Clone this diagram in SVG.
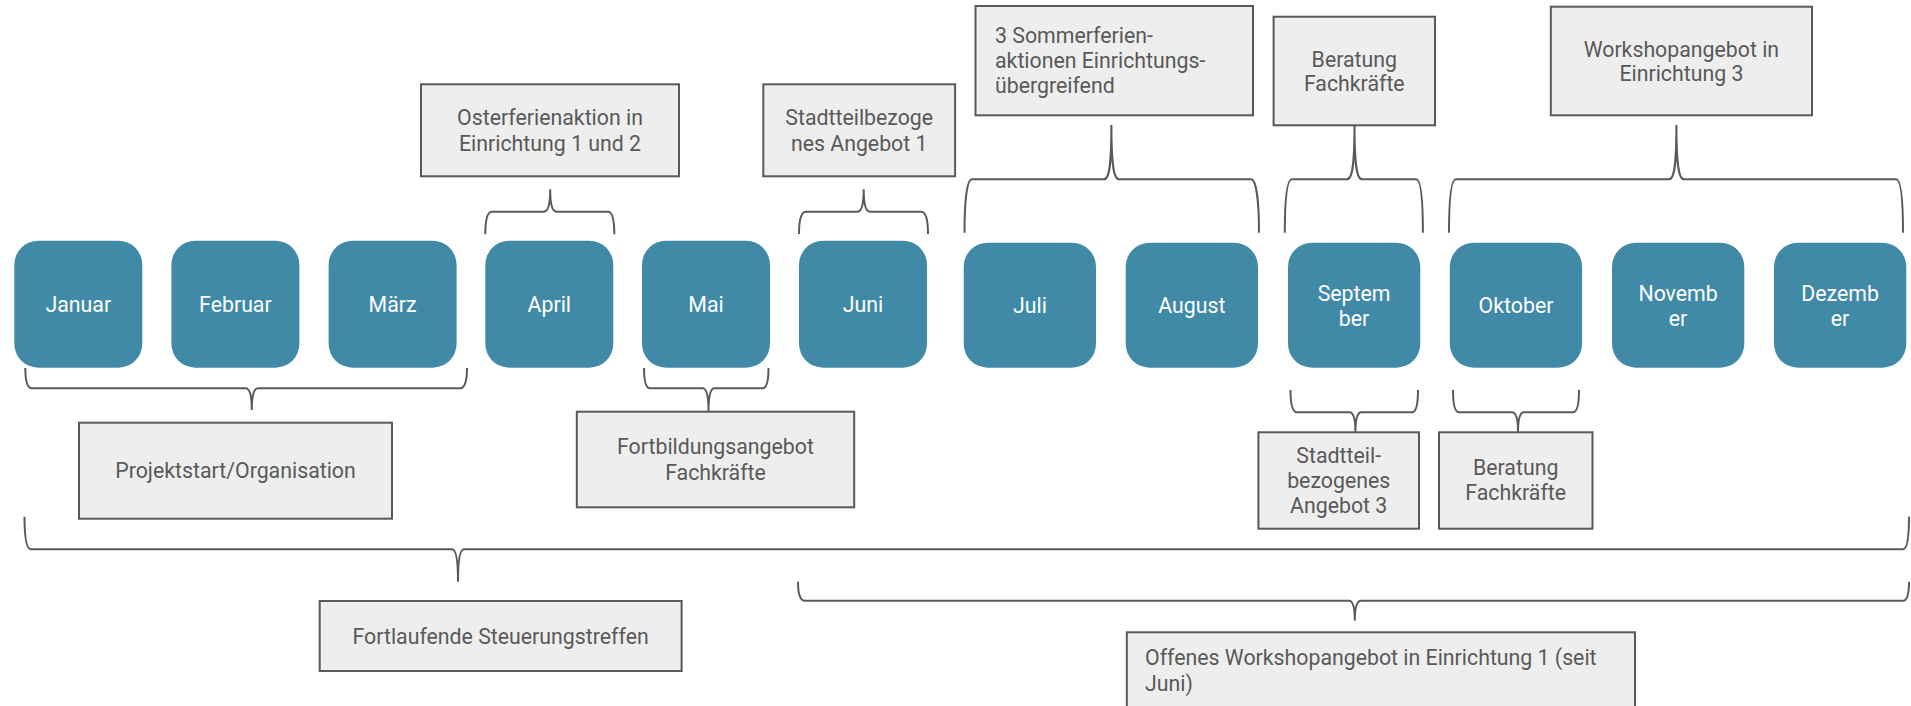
<svg xmlns="http://www.w3.org/2000/svg" width="1911" height="706" viewBox="0 0 1911 706">
<style>
.m{fill:#408aa8}
.mt{font-family:Roboto,"Liberation Sans",sans-serif;font-size:21.3px;fill:#ffffff;text-anchor:middle}
.b{fill:#eeeeee;stroke:#595959;stroke-width:2}
.bt{font-family:Roboto,"Liberation Sans",sans-serif;font-size:21.3px;fill:#595959;text-anchor:middle}
.btl{font-family:Roboto,"Liberation Sans",sans-serif;font-size:21.3px;fill:#595959}
.c path{fill:none;stroke:#595959;stroke-width:2}
</style>
<rect width="1911" height="706" fill="#ffffff"/>
<g id="jan"><rect class="m" x="14.3" y="240.7" width="128" height="127" rx="24"/><text class="mt" x="78.3" y="311.5">Januar</text></g>
<g id="feb"><rect class="m" x="171.4" y="240.7" width="128" height="127" rx="24"/><text class="mt" x="235.4" y="311.5">Februar</text></g>
<g id="mar"><rect class="m" x="328.6" y="240.7" width="128" height="127" rx="24"/><text class="mt" x="392.6" y="311.5">März</text></g>
<g id="apr"><rect class="m" x="485.3" y="240.7" width="128" height="127" rx="24"/><text class="mt" x="549.3" y="311.5">April</text></g>
<g id="mai"><rect class="m" x="642" y="240.7" width="128" height="127" rx="24"/><text class="mt" x="706" y="311.5">Mai</text></g>
<g id="jun"><rect class="m" x="799" y="240.7" width="128" height="127" rx="24"/><text class="mt" x="863" y="311.5">Juni</text></g>
<g id="jul"><rect class="m" x="963.7" y="242.7" width="132.3" height="125" rx="24"/><text class="mt" x="1029.9" y="312.7">Juli</text></g>
<g id="aug"><rect class="m" x="1125.7" y="242.7" width="132.3" height="125" rx="24"/><text class="mt" x="1191.9" y="312.7">August</text></g>
<g id="sep"><rect class="m" x="1288" y="242.7" width="132.3" height="125" rx="24"/><text class="mt" x="1354.1" y="300.5">Septem</text><text class="mt" x="1354.1" y="326.2">ber</text></g>
<g id="okt"><rect class="m" x="1449.8" y="242.7" width="132.3" height="125" rx="24"/><text class="mt" x="1516" y="312.7">Oktober</text></g>
<g id="nov"><rect class="m" x="1612" y="242.7" width="132.3" height="125" rx="24"/><text class="mt" x="1678.1" y="300.5">Novemb</text><text class="mt" x="1678.1" y="326.2">er</text></g>
<g id="dez"><rect class="m" x="1774" y="242.7" width="132.3" height="125" rx="24"/><text class="mt" x="1840.1" y="300.5">Dezemb</text><text class="mt" x="1840.1" y="326.2">er</text></g>

<g id="oster"><rect class="b" x="421" y="84.3" width="258" height="92"/><text class="bt" x="550" y="125">Osterferienaktion in</text><text class="bt" x="550" y="150.7">Einrichtung 1 und 2</text></g>
<g id="stadt1"><rect class="b" x="763.3" y="84.3" width="191.8" height="92"/><text class="bt" x="859.2" y="125">Stadtteilbezoge</text><text class="bt" x="859.2" y="150.7">nes Angebot 1</text></g>
<g id="sommer"><rect class="b" x="975.5" y="6" width="277.5" height="109.3"/><text class="btl" x="995" y="43">3 Sommerferien-</text><text class="btl" x="995" y="68">aktionen Einrichtungs-</text><text class="btl" x="995" y="93">übergreifend</text></g>
<g id="beratung1"><rect class="b" x="1273.6" y="16.7" width="161.4" height="108.6"/><text class="bt" x="1354.3" y="66.5">Beratung</text><text class="bt" x="1354.3" y="91">Fachkräfte</text></g>
<g id="workshop3"><rect class="b" x="1550.8" y="6.7" width="261.2" height="108.6"/><text class="bt" x="1681.4" y="56.5">Workshopangebot in</text><text class="bt" x="1681.4" y="81">Einrichtung 3</text></g>
<g id="projektstart"><rect class="b" x="79" y="422.7" width="313" height="96"/><text class="bt" x="235.5" y="478">Projektstart/Organisation</text></g>
<g id="fortbildung"><rect class="b" x="576.8" y="411.7" width="277.4" height="95.6"/><text class="bt" x="715.5" y="454">Fortbildungsangebot</text><text class="bt" x="715.5" y="479.5">Fachkräfte</text></g>
<g id="stadt3"><rect class="b" x="1258.4" y="432.3" width="160.6" height="96.4"/><text class="bt" x="1338.7" y="463.3">Stadtteil-</text><text class="bt" x="1338.7" y="488.3">bezogenes</text><text class="bt" x="1338.7" y="513.3">Angebot 3</text></g>
<g id="beratung2"><rect class="b" x="1439" y="432.3" width="153.5" height="96.4"/><text class="bt" x="1515.7" y="475">Beratung</text><text class="bt" x="1515.7" y="500">Fachkräfte</text></g>
<g id="steuerung"><rect class="b" x="319.7" y="601" width="361.9" height="70"/><text class="bt" x="500.6" y="643.5">Fortlaufende Steuerungstreffen</text></g>
<g id="offenes"><rect class="b" x="1126.8" y="632.3" width="508.2" height="90"/><text class="btl" x="1145" y="665">Offenes Workshopangebot in Einrichtung 1 (seit</text><text class="btl" x="1145" y="690.7">Juni)</text></g>

<g id="connectors" class="c">
<path d="M485.3,234.3 Q485.3,211.7 492,211.7 L544,211.7 Q550.2,211.7 550.2,189.3 Q550.2,211.7 556.4,211.7 L608,211.7 Q614.3,211.7 614.3,234.3"/>
<path d="M799,234 Q799,211.7 806,211.7 L857.5,211.7 Q863.7,211.7 863.7,189.3 Q863.7,211.7 870,211.7 L921,211.7 Q928,211.7 928,234"/>
<path d="M964.5,232.7 C964.5,200 967,179.3 972,179.3 L1104,179.3 C1110,179.3 1111.4,160 1111.4,125 C1111.4,160 1113,179.3 1119,179.3 L1251,179.3 C1256,179.3 1259,200 1259,232.7"/>
<path d="M1284.8,232.7 C1284.8,200 1287,179.3 1292,179.3 L1347,179.3 C1353,179.3 1354.5,160 1354.5,125.3 C1354.5,160 1356,179.3 1362,179.3 L1416,179.3 C1421,179.3 1422.9,200 1422.9,232.7"/>
<path d="M1449,232.7 C1449,200 1451,179.3 1456,179.3 L1669,179.3 C1675,179.3 1676.4,160 1676.4,125 C1676.4,160 1678,179.3 1684,179.3 L1896,179.3 C1901,179.3 1903,200 1903,232.7"/>
<path d="M25.3,368 Q25.3,388.3 32,388.3 L245.5,388.3 Q251.8,388.3 251.8,410 Q251.8,388.3 258,388.3 L460,388.3 Q467,388.3 467,368"/>
<path d="M644,368 Q644,388.3 650,388.3 L702.5,388.3 Q708.5,388.3 708.5,411 Q708.5,388.3 714.5,388.3 L762.5,388.3 Q768.5,388.3 768.5,368"/>
<path d="M1290.5,390 Q1290.5,412.3 1297,412.3 L1349.4,412.3 Q1355.4,412.3 1355.4,432.3 Q1355.4,412.3 1361.4,412.3 L1412,412.3 Q1418,412.3 1418,390"/>
<path d="M1453,390 Q1453,412.3 1459,412.3 L1512,412.3 Q1518,412.3 1518,432.3 Q1518,412.3 1524,412.3 L1573,412.3 Q1579,412.3 1579,390"/>
<path d="M24.5,516.7 Q24.5,549.3 31,549.3 L452,549.3 Q458,549.3 458,581.7 Q458,549.3 464,549.3 L1903,549.3 Q1909,549.3 1909,516.7"/>
<path d="M798,581.7 Q798,600.7 805,600.7 L1349,600.7 Q1354.8,600.7 1354.8,620.7 Q1354.8,600.7 1361,600.7 L1903,600.7 Q1909,600.7 1909,581.7"/>
</g>
</svg>
